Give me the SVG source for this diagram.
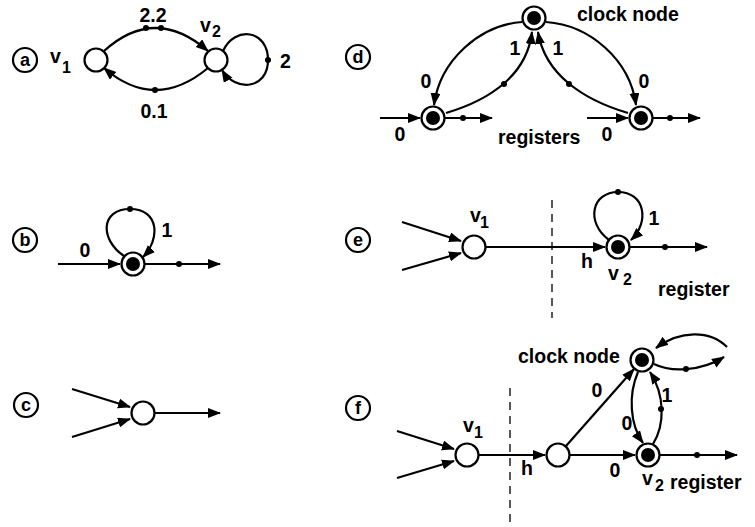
<svg xmlns="http://www.w3.org/2000/svg" width="755" height="527" viewBox="0 0 755 527">
<style>
.e{fill:none;stroke:#000;stroke-width:2.2}
.a{marker-end:url(#ar)}
.n{fill:#fff;stroke:#000;stroke-width:2.2}
.p{fill:#fff;stroke:#000;stroke-width:2.2}
.f{fill:#000}
.t{font-family:"Liberation Sans",Arial,sans-serif;font-weight:bold;font-size:19.5px;fill:#000}
.s{font-size:16px}
.pl{font-family:"Liberation Sans",Arial,sans-serif;font-weight:bold;font-size:18px;fill:#000;text-anchor:middle}
.m{text-anchor:middle}
.d{fill:none;stroke:#000;stroke-width:1.3;stroke-dasharray:8,6}
</style>
<defs>
<marker id="ar" markerWidth="14" markerHeight="11" refX="12" refY="5" orient="auto" markerUnits="userSpaceOnUse"><path d="M0,0 L13,5 L0,10 z" fill="#000"/></marker>
</defs>
<rect width="755" height="527" fill="#fff"/>

<!-- panel labels -->
<g id="panel-labels">
<circle class="p" cx="25" cy="60" r="12"/><text class="pl" x="25" y="66">a</text>
<circle class="p" cx="358" cy="57" r="12"/><text class="pl" x="358" y="63">d</text>
<circle class="p" cx="25" cy="240" r="12"/><text class="pl" x="25" y="246">b</text>
<circle class="p" cx="358" cy="240" r="12"/><text class="pl" x="358" y="246">e</text>
<circle class="p" cx="26" cy="405" r="12"/><text class="pl" x="26" y="411">c</text>
<circle class="p" cx="358" cy="408" r="12"/><text class="pl" x="358" y="414">f</text>
</g>

<!-- connectors -->
<g id="connectors">
<!-- a -->
<path class="e a" d="M104,51 Q155,5 208,51"/>
<path class="e a" d="M208,68 Q155,112 104,68"/>
<path class="e a" d="M223,51 C235,25 268,30 268,60 C268,90 235,92 222,70"/>
<circle class="f" cx="146" cy="28" r="3"/><circle class="f" cx="161" cy="28" r="3"/>
<circle class="f" cx="155" cy="90" r="3"/>
<circle class="f" cx="268" cy="60" r="3"/>
<!-- d -->
<path class="e a" d="M522,22 C480,25 440,60 434,105"/>
<path class="e a" d="M446,113 C490,100 527,75 532,32"/>
<path class="e a" d="M628,113 C584,100 545,75 538,32"/>
<path class="e a" d="M546,22 C590,25 630,60 636,105"/>
<circle class="f" cx="504" cy="84" r="3"/>
<circle class="f" cx="569" cy="84" r="3"/>
<path class="e a" d="M380,118 L420,118"/>
<path class="e a" d="M445,118 L492,118"/>
<circle class="f" cx="463" cy="118" r="3"/>
<path class="e a" d="M587,118 L628,118"/>
<path class="e a" d="M653,118 L700,118"/>
<circle class="f" cx="670" cy="118" r="3"/>
<!-- b -->
<path class="e a" d="M58,264 L120,264"/>
<path class="e a" d="M145,264 L220,264"/>
<circle class="f" cx="179" cy="264" r="3"/>
<path class="e a" d="M124,256 C100,240 100,209 130,209 C160,209 160,240 143,257"/>
<circle class="f" cx="130" cy="209" r="3"/>
<!-- c -->
<path class="e a" d="M72,389 L130,407"/>
<path class="e a" d="M72,437 L130,419"/>
<path class="e a" d="M155,413 L220,413"/>
<!-- e -->
<path class="e a" d="M402,222 L461,241"/>
<path class="e a" d="M402,270 L461,253"/>
<path class="e a" d="M486,247 L605,247"/>
<line class="d" x1="552" y1="200" x2="552" y2="318"/>
<path class="e a" d="M609,240 C585,222 592,192 618,192 C645,192 650,222 631,240"/>
<circle class="f" cx="618" cy="192" r="3"/>
<path class="e a" d="M630,247 L707,247"/>
<circle class="f" cx="665" cy="247" r="3"/>
<!-- f -->
<path class="e a" d="M397,431 L454,449"/>
<path class="e a" d="M397,478 L454,461"/>
<path class="e a" d="M479,455 L545,455"/>
<line class="d" x1="510" y1="388" x2="510" y2="523"/>
<path class="e a" d="M566,446 L634,369"/>
<path class="e a" d="M570,455 L635,455"/>
<path class="e a" d="M638,372 C628,395 630,425 643,443"/>
<path class="e a" d="M653,444 C665,425 665,395 650,372"/>
<circle class="f" cx="661" cy="409" r="3"/>
<path class="e a" d="M727,347 C710,330 680,330 656,348"/>
<path class="e a" d="M654,364 C670,372 700,372 724,357"/>
<circle class="f" cx="686" cy="369" r="3"/>
<path class="e a" d="M660,455 L737,455"/>
<circle class="f" cx="697" cy="455" r="3"/>
</g>

<!-- nodes -->
<g id="a-v1"><circle class="n" cx="96" cy="60" r="11.5"/></g>
<g id="a-v2"><circle class="n" cx="216" cy="60" r="11.5"/></g>
<g id="d-clock"><circle class="n" cx="534" cy="18" r="11.5"/><circle class="f" cx="534" cy="18" r="7"/></g>
<g id="d-reg1"><circle class="n" cx="433" cy="118" r="11.5"/><circle class="f" cx="433" cy="118" r="7"/></g>
<g id="d-reg2"><circle class="n" cx="641" cy="118" r="11.5"/><circle class="f" cx="641" cy="118" r="7"/></g>
<g id="b-reg"><circle class="n" cx="133" cy="264" r="11.5"/><circle class="f" cx="133" cy="264" r="7"/></g>
<g id="c-node"><circle class="n" cx="143" cy="413" r="11.5"/></g>
<g id="e-v1"><circle class="n" cx="474" cy="247" r="11.5"/></g>
<g id="e-v2"><circle class="n" cx="618" cy="247" r="11.5"/><circle class="f" cx="618" cy="247" r="7"/></g>
<g id="f-v1"><circle class="n" cx="467" cy="455" r="11.5"/></g>
<g id="f-mid"><circle class="n" cx="558" cy="455" r="11.5"/></g>
<g id="f-clock"><circle class="n" cx="642" cy="360" r="11.5"/><circle class="f" cx="642" cy="360" r="7"/></g>
<g id="f-v2"><circle class="n" cx="648" cy="455" r="11.5"/><circle class="f" cx="648" cy="455" r="7"/></g>

<!-- labels -->
<g id="labels">
<text class="t" x="50" y="63">v</text><text class="t s" x="62" y="73">1</text>
<text class="t" x="200" y="32">v</text><text class="t s" x="212" y="37">2</text>
<text class="t m" x="153" y="22">2.2</text>
<text class="t m" x="154" y="118">0.1</text>
<text class="t" x="280" y="68">2</text>

<text class="t" x="577" y="21">clock node</text>
<text class="t" x="498" y="144">registers</text>
<text class="t m" x="426" y="88">0</text>
<text class="t m" x="515" y="55">1</text>
<text class="t m" x="558" y="55">1</text>
<text class="t m" x="644" y="88">0</text>
<text class="t m" x="400" y="141">0</text>
<text class="t m" x="607" y="141">0</text>

<text class="t m" x="85" y="257">0</text>
<text class="t m" x="167" y="237">1</text>

<text class="t" x="470" y="222">v</text><text class="t s" x="480" y="228">1</text>
<text class="t m" x="587" y="268">h</text>
<text class="t" x="608" y="280">v</text><text class="t s" x="623" y="285">2</text>
<text class="t m" x="654" y="225">1</text>
<text class="t" x="658" y="296">register</text>

<text class="t" x="463" y="432">v</text><text class="t s" x="474" y="438">1</text>
<text class="t m" x="527" y="475">h</text>
<text class="t m" x="597" y="397">0</text>
<text class="t m" x="615" y="477">0</text>
<text class="t m" x="627" y="430">0</text>
<text class="t m" x="667" y="402">1</text>
<text class="t" x="518" y="363">clock node</text>
<text class="t" x="642" y="485">v</text><text class="t s" x="655" y="491">2</text>
<text class="t" x="670" y="489">register</text>
</g>
</svg>
